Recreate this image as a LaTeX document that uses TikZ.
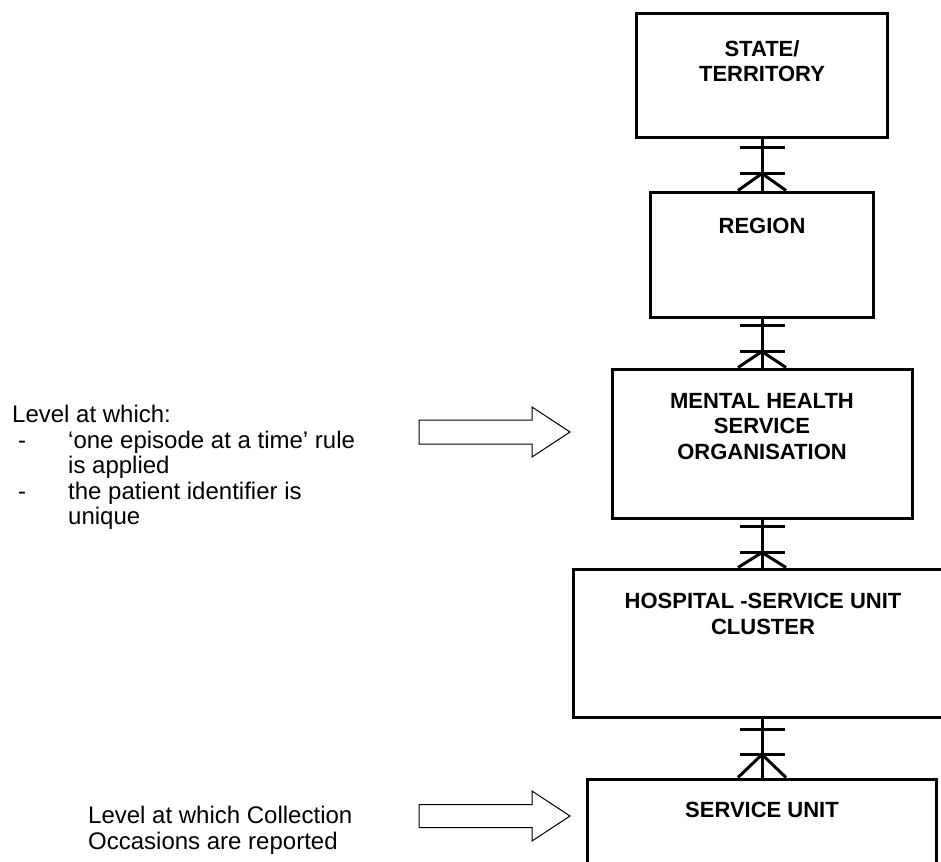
\documentclass[tikz,border=0pt]{standalone}
\usepackage{fontspec}
\setmainfont{Liberation Sans}
\usetikzlibrary{calc}
\begin{document}
\begin{tikzpicture}[x=1pt,y=-1pt,
  box/.style={draw, line width=3pt, inner sep=0pt},
  lbl/.style={font=\fontsize{22}{25.5}\selectfont\bfseries, align=center, inner sep=0pt, anchor=north},
  note/.style={font=\fontsize{24}{25.5}\selectfont, align=left, inner sep=0pt, anchor=north west},
  conn/.style={line width=3pt},
  blockarrow/.style={draw, line width=1pt, line join=miter}]
\useasboundingbox (0,0) rectangle (941,861);
\clip (0,0) rectangle (941,861);
% boxes
\node[box, minimum width=251pt, minimum height=124pt] (st) at (762,76) {};
\node[box, minimum width=223pt, minimum height=125pt] (rg) at (762,254.5) {};
\node[box, minimum width=300pt, minimum height=149pt] (mh) at (762,443.5) {};
\node[box, minimum width=378pt, minimum height=148pt] (hs) at (762,643) {};
\node[box, minimum width=349pt, minimum height=200pt] (su) at (762,879) {};
% labels
\node[lbl] (stl) at (762,40) {STATE/\\TERRITORY};
\node[lbl] (rgl) at (762,218) {REGION};
\node[lbl] (mhl) at (762,393) {MENTAL HEALTH\\SERVICE\\ORGANISATION};
\node[lbl] (hsl) at (763,593) {HOSPITAL -SERVICE UNIT\\CLUSTER};
\node[lbl] (sul) at (762,802) {SERVICE UNIT};
% connectors
\foreach \p/\c/\a/\b in {st/rg/8/34, rg/mh/7/33, mh/hs/7/33, hs/su/11/36}{
  \draw[conn] (\p.south) -- (\c.north);
  \draw[conn] ($(\p.south)+(-22.5,\a)$) -- ++(45,0);
  \draw[conn] ($(\p.south)+(-22.5,\b)$) -- ++(45,0);
  \draw[conn] ($(\c.north)+(-24,0)$) -- ($(\p.south)+(0,\b)$) -- ($(\c.north)+(24,0)$);
}
% notes
\node[note] (n1) at (12,405) {Level at which:\\
\makebox[56pt][l]{\hspace*{6pt}-}‘one episode at a time’ rule\\
\hspace*{56pt}is applied\\
\makebox[56pt][l]{\hspace*{6pt}-}the patient identifier is\\
\hspace*{56pt}unique};
\node[note] (n2) at (88,806) {Level at which Collection\\Occasions are reported};
% block arrows
\coordinate (a1) at (419,432);
\draw[blockarrow] ($(a1)+(0,-12)$) -- ++(113,0) -- ++(0,-13) -- ($(a1)+(151,0)$) -- ($(a1)+(113,25)$) -- ++(0,-13) -- ($(a1)+(0,12)$) -- cycle;
\coordinate (a2) at (419,816);
\draw[blockarrow] ($(a2)+(0,-11.5)$) -- ++(113,0) -- ++(0,-13.5) -- ($(a2)+(151,0)$) -- ($(a2)+(113,25)$) -- ++(0,-13.5) -- ($(a2)+(0,11.5)$) -- cycle;
\end{tikzpicture}
\end{document}
